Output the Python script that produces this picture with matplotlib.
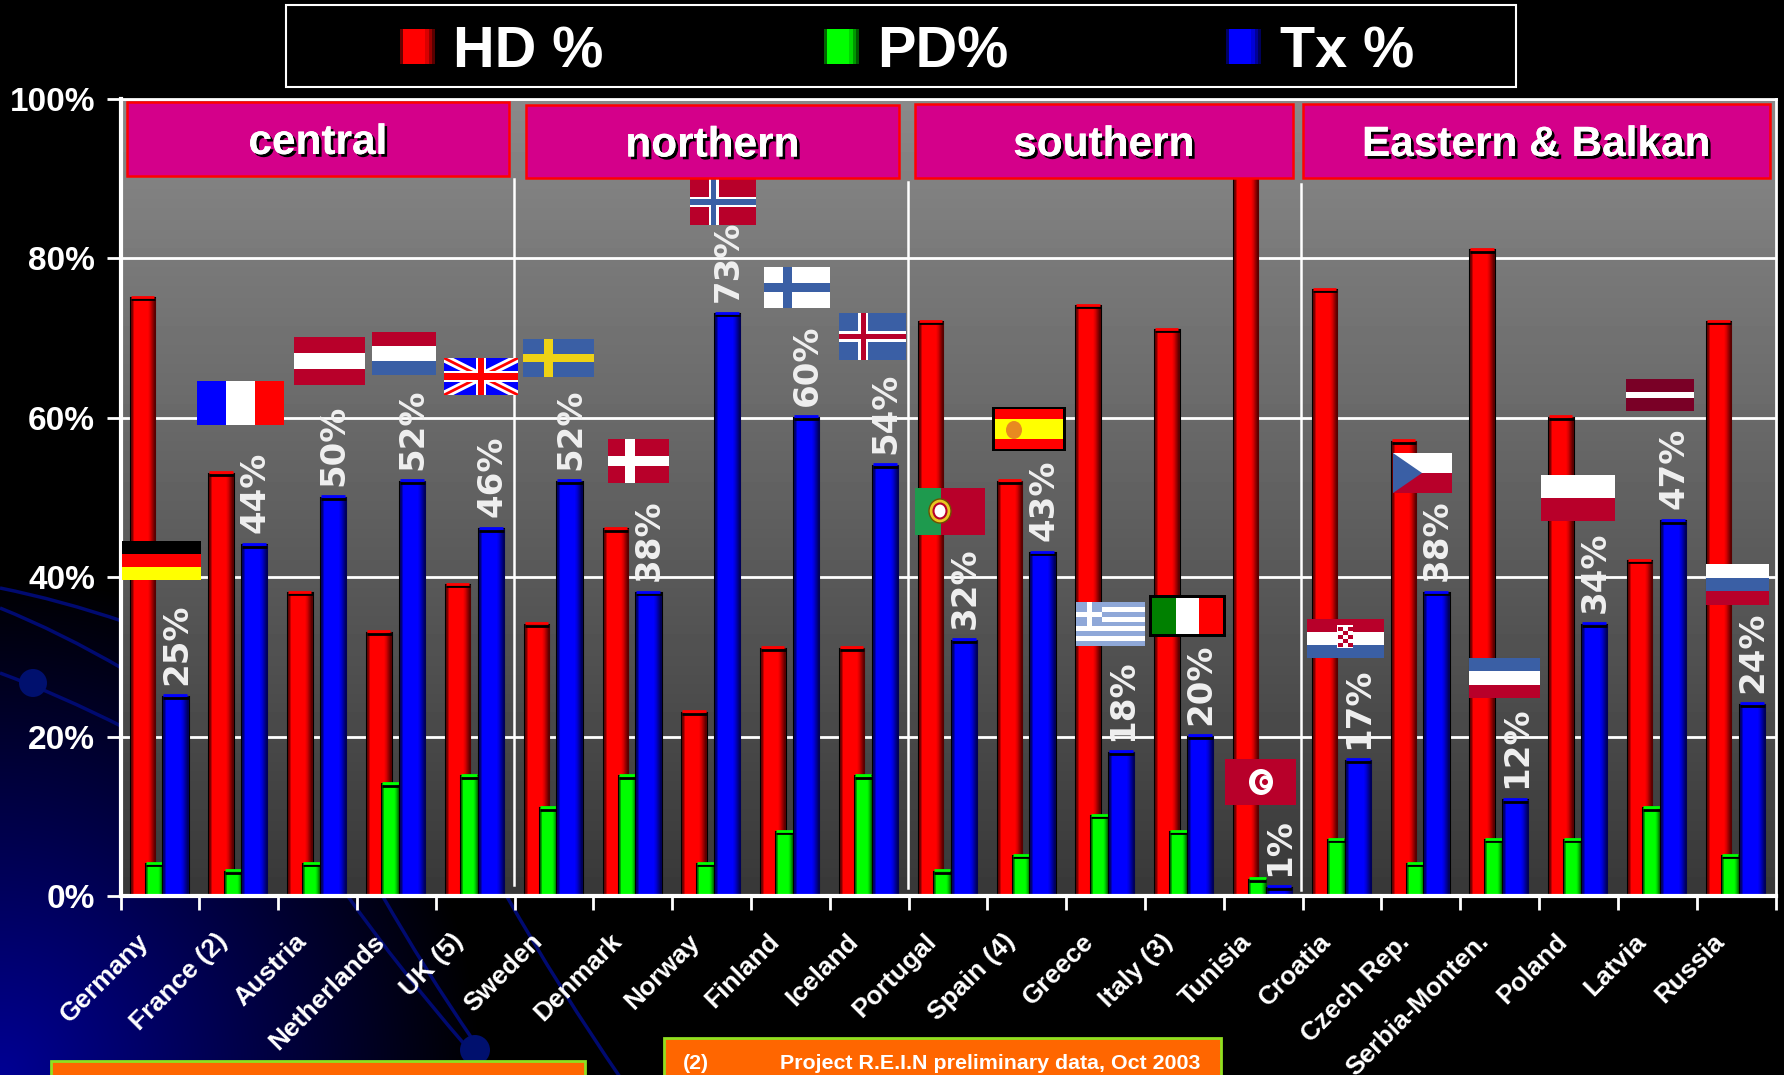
import matplotlib
matplotlib.use("Agg")
import matplotlib.pyplot as plt
import matplotlib.patheffects as pe
import numpy as np
from matplotlib.patches import Circle, Ellipse, PathPatch, Polygon, Rectangle
from matplotlib.path import Path

plt.rcParams["font.family"] = ["Liberation Sans", "DejaVu Sans"]
plt.rcParams["font.weight"] = "bold"

# data
countries = ["Germany", "France (2)", "Austria", "Netherlands", "UK (5)", "Sweden", "Denmark",
             "Norway", "Finland", "Iceland", "Portugal", "Spain (4)", "Greece", "Italy (3)",
             "Tunisia", "Croatia", "Czech Rep.", "Serbia-Monten.", "Poland", "Latvia", "Russia"]
hd = [75, 53, 38, 33, 39, 34, 46, 23, 31, 31, 72, 52, 74, 71, 97, 76, 57, 81, 60, 42, 72]
pd_ = [4, 3, 4, 14, 15, 11, 15, 4, 8, 15, 3, 5, 10, 8, 2, 7, 4, 7, 7, 11, 5]
tx = [25, 44, 50, 52, 46, 52, 38, 73, 60, 54, 32, 43, 18, 20, 1, 17, 38, 12, 34, 47, 24]
y_ticks = [0, 20, 40, 60, 80, 100]
regions = ["central", "northern", "southern", "Eastern & Balkan"]
legend_names = ["HD %", "PD%", "Tx %"]

W, H = 1784, 1075
fig = plt.figure(figsize=(W / 100, H / 100), dpi=100, facecolor="black")

RED = (1, 0, 0)
GREEN = (0, 1, 0)
BLUE = (0, 0, 1)


def gradient(col):
    # thin dark left edge, bright middle, dark fade on the right
    t = np.array([0.4, 1, 1, 1, 1, 1, 1, 1, 0.85, 0.6, 0.35])
    return (t[:, None] * np.array(col))[None, :, :]


# background layer in pixels
bg = fig.add_axes([0, 0, 1, 1], zorder=0)
yy, xx = np.mgrid[0:H:4, 0:W:4]
dist = np.sqrt((xx / 480) ** 2 + ((yy - H) / 500) ** 2)
img = np.zeros(xx.shape + (3,))
img[..., 2] = np.clip(1 - dist, 0, 1) * 0.58
bg.imshow(img, extent=(0, W, H, 0), aspect="auto", interpolation="bilinear")
for pts in [[(0, 588), (60, 600), (125, 622)],
            [(0, 608), (60, 632), (125, 670)],
            [(0, 673), (60, 695), (125, 728)],
            [(347, 895), (400, 970), (465, 1045)],
            [(382, 895), (425, 970), (473, 1040)],
            [(506, 895), (560, 990), (622, 1080)]]:
    bg.add_patch(PathPatch(Path(pts, [Path.MOVETO, Path.CURVE3, Path.CURVE3]), fill=False,
                           ec="#000a70", lw=2.5))
bg.add_patch(Ellipse((33, 683), 28, 28, fc="#00106e", ec="none"))
bg.add_patch(Ellipse((475, 1050), 30, 30, fc="#00106e", ec="none"))
bg.set_xlim(0, W)
bg.set_ylim(H, 0)
bg.axis("off")

# main chart
ax = fig.add_axes([120.5 / W, (H - 896) / H, 1655 / W, 797 / H], zorder=1)
ax.patch.set_alpha(0)
ax.imshow(np.linspace(0.54, 0.22, 256)[:, None], cmap="gray", vmin=0, vmax=1, aspect="auto",
          extent=(0, 1, 0, 1), transform=ax.transAxes, zorder=0)
ax.set_axisbelow(False)
ax.grid(True, axis="y", color="white", lw=2, zorder=1)

x = np.arange(len(countries))
series = [(hd, x + 0.284, 0.31, RED, 3), (pd_, x + 0.43, 0.22, GREEN, 4), (tx, x + 0.705, 0.32, BLUE, 5)]
for vals, pos, w, col, z in series:
    bars = ax.bar(pos, vals, w, color=col, edgecolor="black", lw=1.5, zorder=z)
    for b in bars:
        x0, h = b.get_x(), b.get_height()
        ax.imshow(gradient(col), extent=(x0, x0 + w, 0, h), aspect="auto", zorder=z,
                  interpolation="bilinear")
        # top cap
        ax.plot([x0, x0 + w], [h - 0.15, h - 0.15], color="black", lw=2, zorder=z + 0.2,
                solid_capstyle="butt")
        ax.plot([x0, x0 + w * 0.95], [h + 0.2, h + 0.2], color=col, lw=2, zorder=z + 0.2,
                solid_capstyle="butt")

for i, v in enumerate(tx):
    ax.annotate(f"{v}%", (x[i] + 0.70, v), xytext=(1, 12), textcoords="offset pixels",
                rotation=90, ha="center", va="bottom", color="#f0f0f0", fontsize=24.5,
                family="DejaVu Sans", fontweight="bold", zorder=6)

ax.set_xlim(0, len(countries))
ax.set_ylim(0, 100)
ax.set_yticks(y_ticks)
ax.set_yticklabels([f"{t}%" for t in y_ticks], color="white", fontsize=24)
ax.set_xticks(np.arange(len(countries) + 1))
ax.set_xticklabels([])
# labels hang from invisible ticks left of each group's centre
ax.set_xticks(x + 0.2, countries, minor=True, rotation=45, ha="right", va="top",
              rotation_mode="anchor", color="white", fontsize=19)
ax.tick_params(axis="x", which="major", length=10, width=2, color="white", direction="out")
ax.tick_params(axis="x", which="minor", length=0, pad=24)
ax.tick_params(axis="y", length=10, width=2, color="white", pad=8.4)
for name, s in ax.spines.items():
    s.set_color("white")
    s.set_linewidth(3 if name in ("left", "bottom") else 2)
    s.set_zorder(7)

# overlay in pixels: legend, banners, flags, notes
ov = fig.add_axes([0, 0, 1, 1], zorder=2)
ov.patch.set_alpha(0)


def rect(x0, y0, x1, y1, fc, **kw):
    ov.add_patch(Rectangle((x0, y0), x1 - x0, y1 - y0, fc=fc, ec=kw.pop("ec", "none"), **kw))


ov.add_patch(Rectangle((286, 5), 1230, 82, fc="black", ec="white", lw=1.5))
swatches = [(400, RED), (824, GREEN), (1226, BLUE)]
text_x = [453, 877, 1280]
for (sx, col), tx0, name in zip(swatches, text_x, legend_names):
    ov.imshow(gradient(col), extent=(sx, sx + 35, 64, 29), aspect="auto", zorder=3)
    ov.text(tx0, 67, name, color="white", fontsize=41.5, ha="left", va="baseline", zorder=3)

banner_boxes = [(127, 102, 509, 176), (526, 105, 899, 178), (915, 104, 1293, 178), (1303, 104, 1770, 178)]
shadow = [pe.withSimplePatchShadow(offset=(2, -2), shadow_rgbFace="black", alpha=1), pe.Normal()]
for name, (x0, y0, x1, y1) in zip(regions, banner_boxes):
    rect(x0, y0, x1, y1, "#d4008a", ec="#ff0000", lw=1.8, zorder=5)
    ov.text((x0 + x1) / 2, (y0 + y1) / 2 + 4, name, color="white", fontsize=30.5, ha="center",
            va="center", zorder=6, path_effects=shadow)

for sx, y0, y1 in [(514, 179, 885), (908, 182, 888), (1301, 184, 890)]:
    ov.plot([sx, sx], [y0, y1], color="white", lw=1.8, zorder=2)

FRED = "#b8002a"
FBLUE = "#3a5fa5"


def stripes(box, colors):
    x0, y0, x1, y1 = box
    h = (y1 - y0) / len(colors)
    for i, c in enumerate(colors):
        rect(x0, y0 + i * h, x1, y0 + (i + 1) * h, c, zorder=4)


def vstripes(box, colors):
    x0, y0, x1, y1 = box
    w = (x1 - x0) / len(colors)
    for i, c in enumerate(colors):
        rect(x0 + i * w, y0, x0 + (i + 1) * w, y1, c, zorder=4)


def nordic(box, bg_col, cross, inner=None):
    x0, y0, x1, y1 = box
    rect(x0, y0, x1, y1, bg_col, zorder=4)
    cx = x0 + (x1 - x0) * 0.36
    cy = (y0 + y1) / 2
    t = (y1 - y0) * 0.11
    rect(cx - t, y0, cx + t, y1, cross, zorder=4)
    rect(x0, cy - t, x1, cy + t, cross, zorder=4)
    if inner:
        t = t * 0.5
        rect(cx - t, y0, cx + t, y1, inner, zorder=4)
        rect(x0, cy - t, x1, cy + t, inner, zorder=4)


stripes((122, 541, 201, 580), ["black", "#ff0000", "#ffff00"])
vstripes((197, 381, 284, 425), ["#0000ff", "white", "#ff0000"])
stripes((294, 337, 365, 385), [FRED, "white", FRED])
stripes((372, 332, 436, 375), [FRED, "white", FBLUE])

# UK flag
ux0, uy0, ux1, uy1 = 444, 358, 518, 395
rect(ux0, uy0, ux1, uy1, "#0000ff", zorder=4)
clip = Rectangle((ux0, uy0), ux1 - ux0, uy1 - uy0, transform=ov.transData)
for c, lw in [("white", 6), ("#ff0000", 2)]:
    for p in [[(ux0, uy0), (ux1, uy1)], [(ux0, uy1), (ux1, uy0)]]:
        ln, = ov.plot(*zip(*p), color=c, lw=lw, zorder=4)
        ln.set_clip_path(clip)
rect(ux0, 371, ux1, 382, "white", zorder=4)
rect(476, uy0, 486, uy1, "white", zorder=4)
rect(ux0, 373, ux1, 380, "#ff0000", zorder=4)
rect(478, uy0, 484, uy1, "#ff0000", zorder=4)

nordic((523, 339, 594, 377), FBLUE, "#eed215")
nordic((608, 439, 669, 483), FRED, "white")
nordic((690, 179, 756, 225), FRED, "white", FBLUE)
nordic((764, 267, 830, 308), "white", FBLUE)
nordic((839, 313, 906, 360), FBLUE, "white", FRED)

# Portugal
rect(915, 488, 985, 535, FRED, zorder=4)
rect(915, 488, 941, 535, "#1e9a4e", zorder=4)
ov.add_patch(Ellipse((940, 511), 22, 24, fc="#e8c820", ec="#705000", lw=1, zorder=4))
ov.add_patch(Ellipse((940, 511), 13, 15, fc="white", ec=FRED, lw=1.5, zorder=4))

# Spain
rect(992, 407, 1066, 451, "black", zorder=4)
stripes((995, 409, 1063, 449), ["#ff0000", "#ffff00", "#ffff00", "#ff0000"])
ov.add_patch(Ellipse((1014, 430), 16, 18, fc="#e88a20", ec="none", zorder=4))

# Greece
gb = (1076, 602, 1145, 646)
stripes(gb, ["#8fa8d8", "white"] * 4 + ["#8fa8d8"])
rect(1076, 602, 1102, 626, "#8fa8d8", zorder=4)
rect(1087, 602, 1092, 626, "white", zorder=4)
rect(1076, 612, 1102, 617, "white", zorder=4)

# Italy
rect(1149, 595, 1226, 637, "black", zorder=4)
vstripes((1152, 598, 1223, 634), ["#008000", "white", "#ff0000"])

# Tunisia
rect(1225, 759, 1296, 805, FRED, zorder=4)
ov.add_patch(Ellipse((1261, 782), 24, 26, fc="white", ec="none", zorder=4))
ov.add_patch(Ellipse((1262, 782), 14, 16, fc=FRED, ec="none", zorder=4))
ov.add_patch(Ellipse((1265, 782), 11, 13, fc="white", ec="none", zorder=4))
ov.add_patch(Circle((1265, 782), 3, fc=FRED, ec="none", zorder=4))

# Croatia
stripes((1307, 619, 1384, 658), [FRED, "white", FBLUE])
rect(1337, 625, 1353, 648, "white", zorder=4)
for row in range(5):
    for col in range(3):
        if (row + col) % 2 == 0:
            rect(1338 + col * 5, 627 + row * 4, 1343 + col * 5, 631 + row * 4, FRED, zorder=4)

# Czech Rep.
stripes((1393, 453, 1452, 493), ["white", FRED])
ov.add_patch(Polygon([(1393, 453), (1422, 473), (1393, 493)], fc=FBLUE, ec="none", zorder=4))

stripes((1469, 658, 1540, 698), [FBLUE, "white", FRED])
stripes((1541, 475, 1615, 521), ["white", FRED])
stripes((1626, 379, 1694, 411), ["#7a0026", "#7a0026", "white", "#7a0026", "#7a0026"])
stripes((1706, 564, 1769, 605), ["white", FBLUE, FRED])

# footnote boxes
rect(51, 1061, 585, 1085, "#ff6600", ec="#90e020", lw=2, zorder=3)
rect(664, 1038, 1221, 1085, "#ff6600", ec="#90e020", lw=2, zorder=3)
ov.text(683, 1069, "(2)", color="white", fontsize=15.4, zorder=4)
ov.text(780, 1069, "Project R.E.I.N preliminary data, Oct 2003", color="white", fontsize=15.4, zorder=4)

ov.set_xlim(0, W)
ov.set_ylim(H, 0)
ov.axis("off")

fig.savefig("out.png", dpi=100, facecolor="black")
